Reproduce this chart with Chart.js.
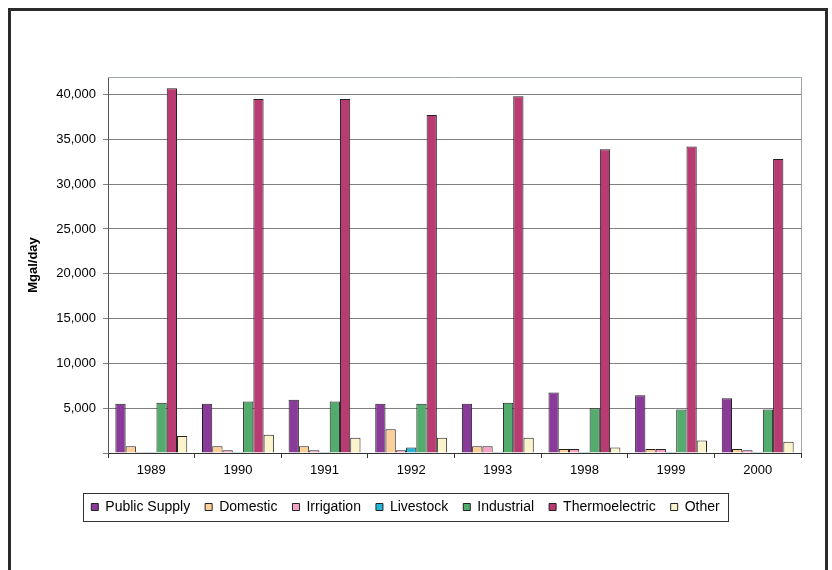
<!DOCTYPE html>
<html>
<head>
<meta charset="utf-8">
<script src="https://cdn.jsdelivr.net/npm/chart.js@4/dist/chart.umd.min.js"></script>
<style>
  html, body { margin: 0; padding: 0; background: #fff; }
  canvas { display: block; }
</style>
</head>
<body>
<canvas id="myChart" width="832" height="570"></canvas>
<script>
const years = ["1989", "1990", "1991", "1992", "1993", "1998", "1999", "2000"];
const publicSupply = [5500, 5500, 5950, 5500, 5500, 6750, 6450, 6100];
const domestic = [750, 750, 750, 2650, 750, 450, 450, 450];
const irrigation = [100, 300, 300, 300, 750, 450, 450, 300];
const livestock = [100, 100, 100, 600, 100, 100, 100, 100];
const industrial = [5600, 5750, 5750, 5500, 5600, 5000, 4850, 4850];
const thermoelectric = [40700, 39500, 39500, 37700, 39800, 33900, 34200, 32800];
const other = [1900, 2050, 1700, 1700, 1700, 600, 1400, 1250];
const yTicks = [0, 5000, 10000, 15000, 20000, 25000, 30000, 35000, 40000];

const series = [
  { label: "Public Supply", data: publicSupply, color: "#8a3a98" },
  { label: "Domestic", data: domestic, color: "#fdd09a" },
  { label: "Irrigation", data: irrigation, color: "#f5a3c4" },
  { label: "Livestock", data: livestock, color: "#21b6da" },
  { label: "Industrial", data: industrial, color: "#53ac6d" },
  { label: "Thermoelectric", data: thermoelectric, color: "#b83c72" },
  { label: "Other", data: other, color: "#fbf3cb" }
];

// frame around the figure, plot area edge and legend box
const framePlugin = {
  id: "frames",
  afterDraw(chart) {
    const ctx = chart.ctx;
    const a = chart.chartArea;
    ctx.save();
    ctx.strokeStyle = "#a0a6ad";
    ctx.lineWidth = 1;
    ctx.beginPath();
    ctx.moveTo(a.left, a.top + 0.5);
    ctx.lineTo(a.right + 0.5, a.top + 0.5);
    ctx.lineTo(a.right + 0.5, a.bottom);
    ctx.stroke();

    const hb = chart.legend.legendHitBoxes;
    if (hb && hb.length) {
      const l = Math.min(...hb.map(h => h.left)) - 8;
      const r = Math.max(...hb.map(h => h.left + h.width)) + 9;
      const t = hb[0].top - 7;
      const b = hb[0].top + hb[0].height + 7;
      ctx.strokeStyle = "#333";
      ctx.strokeRect(Math.round(l) + 0.5, Math.round(t) + 0.5, Math.round(r - l), Math.round(b - t));
    }

    ctx.strokeStyle = "#2a2a2a";
    ctx.lineWidth = 3;
    ctx.strokeRect(9.5, 9.5, 817, 600);
    ctx.restore();
  }
};

const ctx = document.getElementById("myChart").getContext("2d");
const chart = new Chart(ctx, {
  type: "bar",
  data: {
    labels: years,
    datasets: series.map(s => ({
      label: s.label,
      data: s.data,
      backgroundColor: s.color,
      borderColor: "#222",
      borderWidth: 1,
      categoryPercentage: 0.83,
      barPercentage: 1
    }))
  },
  options: {
    responsive: false,
    animation: false,
    layout: { padding: { top: 77, right: 31, left: 10, bottom: 46 } },
    plugins: {
      tooltip: { enabled: false },
      legend: {
        position: "bottom",
        labels: {
          boxWidth: 7,
          boxHeight: 7,
          padding: 15,
          color: "#000",
          font: { family: "Liberation Sans, Arial", size: 14 }
        }
      }
    },
    scales: {
      x: {
        afterFit: scale => { scale.height = 32; },
        grid: {
          offset: true,
          drawOnChartArea: false,
          drawTicks: true,
          tickLength: 5,
          color: "#333"
        },
        border: { color: "#333", width: 1 },
        ticks: {
          color: "#000",
          padding: 5,
          font: { family: "Liberation Sans, Arial", size: 13 }
        }
      },
      y: {
        min: 0,
        max: 41950,
        afterFit: scale => { scale.width = 98; },
        afterBuildTicks: scale => {
          scale.ticks = yTicks.map(v => ({ value: v }));
        },
        grid: {
          color: "#808080",
          tickLength: 5,
          drawTicks: true
        },
        border: { color: "#555", width: 1 },
        ticks: {
          color: "#000",
          padding: 7,
          font: { family: "Liberation Sans, Arial", size: 13 },
          callback: v => (v === 0 ? "" : v.toLocaleString("en-US"))
        },
        title: {
          display: true,
          text: "Mgal/day",
          color: "#000",
          padding: { top: 16, bottom: 0 },
          font: { family: "Liberation Sans, Arial", size: 13, weight: "bold" }
        }
      }
    }
  },
  plugins: [framePlugin]
});
</script>
</body>
</html>
